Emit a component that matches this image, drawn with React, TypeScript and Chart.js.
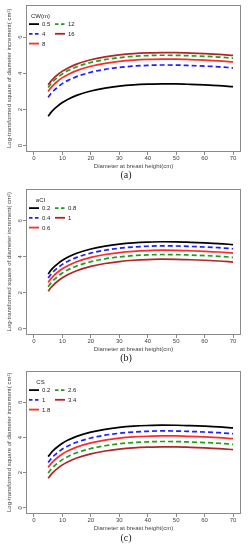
import React, { useEffect, useRef } from "react";
import { Chart, registerables } from "chart.js";
Chart.register(...registerables);

// Diameter at breast height (cm) sample points
const DBH = [5, 6, 7, 8, 10, 12, 15, 20, 25, 30, 35, 40, 45, 50, 55, 60, 65, 70];
const X_TICKS = [0, 10, 20, 30, 40, 50, 60, 70];
const Y_TICKS = [0, 2, 4, 6];
const Y_TITLE = "Log-transformed square of diameter increment( cm\u00B2)";
const X_TITLE = "Diameter at breast height(cm)";

// Panel (a): crown width CW(m)
const CW_LABELS = ["0.5", "4", "8", "12", "16"];
const CW_05 = [1.63, 1.84, 2.01, 2.15, 2.39, 2.57, 2.78, 3.02, 3.18, 3.29, 3.36, 3.40, 3.42, 3.415, 3.39, 3.36, 3.32, 3.26];
const CW_4 = [2.67, 2.88, 3.05, 3.19, 3.43, 3.61, 3.82, 4.06, 4.22, 4.33, 4.40, 4.44, 4.46, 4.455, 4.43, 4.40, 4.36, 4.30];
const CW_8 = [3.00, 3.21, 3.38, 3.52, 3.76, 3.94, 4.15, 4.39, 4.55, 4.66, 4.73, 4.77, 4.79, 4.785, 4.76, 4.73, 4.69, 4.63];
const CW_12 = [3.21, 3.42, 3.59, 3.73, 3.97, 4.15, 4.36, 4.60, 4.76, 4.87, 4.94, 4.98, 5.00, 4.995, 4.97, 4.94, 4.90, 4.84];
const CW_16 = [3.36, 3.57, 3.74, 3.88, 4.12, 4.30, 4.51, 4.75, 4.91, 5.02, 5.09, 5.13, 5.15, 5.145, 5.12, 5.09, 5.05, 4.99];

// Panel (b): aCI
const ACI_LABELS = ["0.2", "0.4", "0.6", "0.8", "1"];
const ACI_02 = [3.05, 3.26, 3.43, 3.57, 3.81, 3.99, 4.20, 4.44, 4.60, 4.71, 4.78, 4.82, 4.84, 4.835, 4.81, 4.78, 4.74, 4.68];
const ACI_04 = [2.82, 3.03, 3.20, 3.34, 3.58, 3.76, 3.97, 4.21, 4.37, 4.48, 4.55, 4.59, 4.61, 4.605, 4.58, 4.55, 4.51, 4.45];
const ACI_06 = [2.58, 2.79, 2.96, 3.10, 3.34, 3.52, 3.73, 3.97, 4.13, 4.24, 4.31, 4.35, 4.37, 4.365, 4.34, 4.31, 4.27, 4.21];
const ACI_08 = [2.34, 2.55, 2.72, 2.86, 3.10, 3.28, 3.49, 3.73, 3.89, 4.00, 4.07, 4.11, 4.13, 4.125, 4.10, 4.07, 4.03, 3.97];
const ACI_1 = [2.08, 2.29, 2.46, 2.60, 2.84, 3.02, 3.23, 3.47, 3.63, 3.74, 3.81, 3.85, 3.87, 3.865, 3.84, 3.81, 3.77, 3.71];

// Panel (c): CS
const CS_LABELS = ["0.2", "1", "1.8", "2.6", "3.4"];
const CS_02 = [2.91, 3.12, 3.29, 3.43, 3.67, 3.85, 4.06, 4.30, 4.46, 4.57, 4.64, 4.68, 4.70, 4.695, 4.67, 4.64, 4.60, 4.54];
const CS_1 = [2.58, 2.79, 2.96, 3.10, 3.34, 3.52, 3.73, 3.97, 4.13, 4.24, 4.31, 4.35, 4.37, 4.365, 4.34, 4.31, 4.27, 4.21];
const CS_18 = [2.30, 2.51, 2.68, 2.82, 3.06, 3.24, 3.45, 3.69, 3.85, 3.96, 4.03, 4.07, 4.09, 4.085, 4.06, 4.03, 3.99, 3.93];
const CS_26 = [1.98, 2.19, 2.36, 2.50, 2.74, 2.92, 3.13, 3.37, 3.53, 3.64, 3.71, 3.75, 3.77, 3.765, 3.74, 3.71, 3.67, 3.61];
const CS_34 = [1.68, 1.89, 2.06, 2.20, 2.44, 2.62, 2.83, 3.07, 3.23, 3.34, 3.41, 3.45, 3.47, 3.465, 3.44, 3.41, 3.37, 3.31];

const STYLES = [
  { color: "#000000", dash: [] as number[] },
  { color: "#1f1fff", dash: [5, 3] },
  { color: "#ff2a2a", dash: [] as number[] },
  { color: "#1aa01a", dash: [5, 3] },
  { color: "#b32424", dash: [] as number[] },
];

const FONT = "'Liberation Sans', Arial, sans-serif";
const AXIS_GRAY = "#8a8a8a";
const TEXT_GRAY = "#444444";

const boxPlugin = {
  id: "rbox",
  afterDraw(chart: any) {
    const { ctx, chartArea } = chart;
    ctx.save();
    ctx.strokeStyle = AXIS_GRAY;
    ctx.lineWidth = 1;
    ctx.strokeRect(
      Math.round(chartArea.left) + 0.5,
      Math.round(chartArea.top) + 0.5,
      Math.round(chartArea.right - chartArea.left) - 1,
      Math.round(chartArea.bottom - chartArea.top) - 1
    );
    ctx.restore();
  },
};

const legendPlugin = {
  id: "rlegend",
  afterDraw(chart: any, _args: any, opts: any) {
    const { ctx, chartArea } = chart;
    const L = chartArea.left;
    const T = chartArea.top;
    ctx.save();
    ctx.font = `6px ${FONT}`;
    ctx.fillStyle = "#222";
    ctx.textBaseline = "middle";
    ctx.textAlign = "center";
    ctx.fillText(opts.title, L + 14.5, T + 11.5);
    ctx.textAlign = "left";
    const rows = [T + 19.5, T + 29.2, T + 39];
    opts.labels.forEach((lab: string, i: number) => {
      const col = i < 3 ? 0 : 1;
      const row = i < 3 ? i : i - 3;
      const x0 = col === 0 ? L + 3 : L + 29;
      const y = rows[row];
      const st = STYLES[i];
      ctx.strokeStyle = st.color;
      ctx.lineWidth = 1.8;
      ctx.setLineDash(st.dash.length ? [3.5, 2.5] : []);
      ctx.beginPath();
      ctx.moveTo(x0, y);
      ctx.lineTo(x0 + 10, y);
      ctx.stroke();
      ctx.setLineDash([]);
      ctx.fillStyle = "#222";
      ctx.fillText(lab, x0 + 13, y + 0.5);
    });
    ctx.restore();
  },
};

type PanelProps = {
  top: number;
  height: number;
  padTop: number;
  series: number[][];
  labels: string[];
  legendTitle: string;
};

function Panel({ top, height, padTop, series, labels, legendTitle }: PanelProps) {
  const ref = useRef<HTMLCanvasElement | null>(null);
  useEffect(() => {
    if (!ref.current) return;
    const padLeft = 5.7;
    const chart = new Chart(ref.current, {
      type: "line",
      data: {
        datasets: series.map((s, i) => ({
          label: labels[i],
          data: DBH.map((x, j) => ({ x, y: s[j] })),
          borderColor: STYLES[i].color,
          borderDash: STYLES[i].dash,
          borderWidth: 1.7,
          pointRadius: 0,
          fill: false,
          cubicInterpolationMode: "monotone" as const,
        })),
      },
      options: {
        animation: false,
        responsive: false,
        devicePixelRatio: 1,
        layout: { padding: { top: padTop, left: padLeft, right: 7, bottom: 0 } },
        plugins: {
          legend: { display: false },
          tooltip: { enabled: false },
          rlegend: { title: legendTitle, labels },
        } as any,
        scales: {
          x: {
            type: "linear",
            min: -2.8,
            max: 72.8,
            afterBuildTicks: (sc: any) => {
              sc.ticks = X_TICKS.map((v) => ({ value: v }));
            },
            afterFit: (sc: any) => {
              sc.height = 18;
            },
            grid: { display: true, drawOnChartArea: false, drawTicks: true, tickLength: 3, color: AXIS_GRAY },
            border: { display: false },
            ticks: {
              color: TEXT_GRAY,
              font: { family: FONT, size: 6 },
              padding: 0,
              maxRotation: 0,
              autoSkip: false,
            },
            title: {
              display: true,
              text: X_TITLE,
              color: TEXT_GRAY,
              font: { family: FONT, size: 6 },
              padding: 0,
            },
          },
          y: {
            type: "linear",
            min: -0.35,
            max: 7.8,
            afterBuildTicks: (sc: any) => {
              sc.ticks = Y_TICKS.map((v) => ({ value: v }));
            },
            afterFit: (sc: any) => {
              sc.width = 26 - padLeft;
            },
            grid: { display: true, drawOnChartArea: false, drawTicks: true, tickLength: 3, color: AXIS_GRAY },
            border: { display: false },
            ticks: {
              color: TEXT_GRAY,
              font: { family: FONT, size: 6 },
              padding: 1,
              minRotation: 90,
              maxRotation: 90,
              crossAlign: "center",
              autoSkip: false,
            },
            title: {
              display: true,
              text: Y_TITLE,
              color: TEXT_GRAY,
              font: { family: FONT, size: 6 },
              padding: 0,
            },
          },
        },
      },
      plugins: [boxPlugin, legendPlugin],
    } as any);
    return () => chart.destroy();
  }, []);
  return (
    <canvas
      ref={ref}
      width={248}
      height={height}
      style={{ position: "absolute", left: 0, top, width: 248, height }}
    />
  );
}

function PanelLabel({ text, y }: { text: string; y: number }) {
  return (
    <div
      style={{
        position: "absolute",
        left: 0,
        width: 252,
        top: y - 7,
        height: 14,
        lineHeight: "14px",
        textAlign: "center",
        fontFamily: "'Liberation Serif', 'Times New Roman', serif",
        fontSize: 10,
        color: "#222",
      }}
    >
      {text}
    </div>
  );
}

export default function App() {
  return (
    <div
      style={{
        position: "absolute",
        left: 0,
        top: 0,
        width: 248,
        height: 550,
        background: "#ffffff",
        overflow: "hidden",
      }}
    >
      <Panel top={0} height={170} padTop={4} series={[CW_05, CW_4, CW_8, CW_12, CW_16]} labels={CW_LABELS} legendTitle="CW(m)" />
      <PanelLabel text="(a)" y={175} />
      <Panel top={184} height={169} padTop={4} series={[ACI_02, ACI_04, ACI_06, ACI_08, ACI_1]} labels={ACI_LABELS} legendTitle="aCI" />
      <PanelLabel text="(b)" y={358} />
      <Panel top={366} height={166} padTop={4} series={[CS_02, CS_1, CS_18, CS_26, CS_34]} labels={CS_LABELS} legendTitle="CS" />
      <PanelLabel text="(c)" y={538} />
    </div>
  );
}
